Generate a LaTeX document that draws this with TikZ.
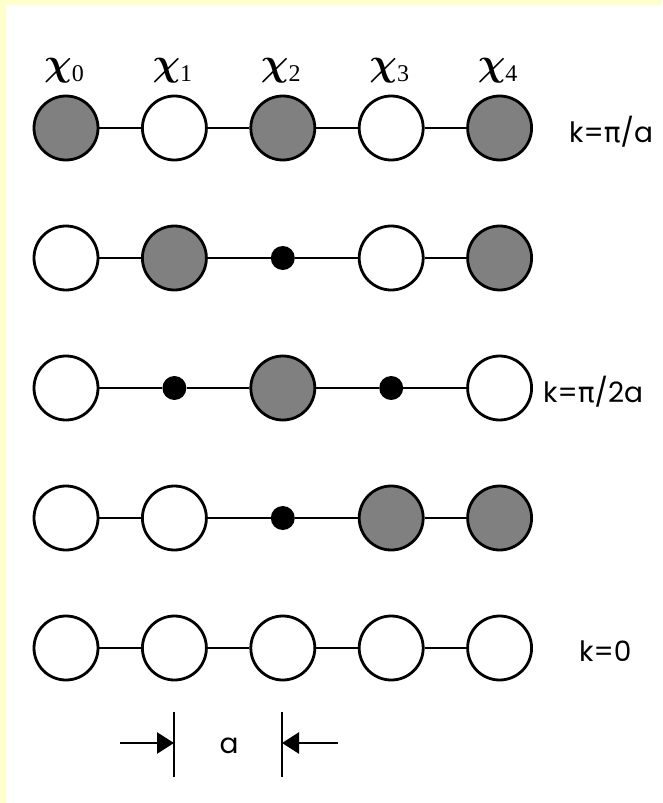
\documentclass[tikz,border=0pt]{standalone}
\usepackage{amsmath}
\usepackage{bm}
\usepackage{fontspec}
\setmainfont{Poppins}
\newfontfamily\greekfont{DejaVu Sans}
\newfontfamily\chifont{Liberation Serif}
\usetikzlibrary{arrows.meta}

\definecolor{frame}{HTML}{FFFFCC}
\definecolor{shade}{HTML}{808080}

\tikzset{
  site/.style = {circle, draw = black, line width = 2.8pt,
    minimum size = 64pt, inner sep = 0pt},
  full/.style = {site, fill = shade},
  empty/.style = {site, fill = white},
  nil/.style = {circle, fill = black, minimum size = 24pt, inner sep = 0pt},
  bond/.style = {draw = black, line width = 1.5pt},
  klabel/.style = {anchor = base west, inner sep = 0pt,
    font = \fontsize{28}{30}\selectfont},
  chilabel/.style = {anchor = base, inner sep = 0pt,
    font = \fontsize{24}{26}\selectfont\chifont},
  dim/.style = {line width = 2.6pt, -{Triangle[length = 17pt, width = 21pt]}}
}

\begin{document}
\begin{tikzpicture}[x = 1pt, y = -1pt]
  \fill[frame] (0, 0) rectangle (662, 803);
  \fill[white] (6, 5) rectangle (662, 803);
  \useasboundingbox (0, 0) rectangle (662, 803);

  % orbitals of the chain
  \foreach \kinds [count = \r] in {{full,empty,full,empty,full},
      {empty,full,nil,empty,full}, {empty,nil,full,nil,empty},
      {empty,empty,nil,full,full}, {empty,empty,empty,empty,empty}}
    \foreach \kind [count = \c] in \kinds
      \node[\kind] (n\r-\c) at ({66 + 108.4 * (\c - 1)}, {128 + 130 * (\r - 1)}) {};

  \foreach \r in {1, 2, 3, 4, 5} {
    \foreach \a/\b in {1/2, 2/3, 3/4, 4/5} {
      \draw[bond] (n\r-\a) -- (n\r-\b);
    }
  }

  \foreach \c in {0, 1, 2, 3, 4}
    \node[chilabel] (chi\c) at ({64 + 108.4 * \c}, 75)
      {\scalebox{1.55}{\(\bm{\chi}\)}\raisebox{-6pt}{\c}};

  \node[klabel] (k1) at (569, 142.7) {k={\greekfont π}/a};
  \node[klabel] (k3) at (543, 402.7) {k={\greekfont π}/2a};
  \node[klabel] (k5) at (579, 661.7) {k=0};

  % lattice spacing
  \coordinate (tickLtop) at (174, 712);
  \coordinate (tickLbot) at (174, 777);
  \coordinate (tickRtop) at (282, 712);
  \coordinate (tickRbot) at (282, 777);
  \coordinate (tipL) at (174, 743);
  \coordinate (tipR) at (282, 743);
  \coordinate (tailL) at (120, 743);
  \coordinate (tailR) at (338, 743);
  \draw[line width = 2.6pt] (tickLtop) -- (tickLbot);
  \draw[line width = 2.6pt] (tickRtop) -- (tickRbot);
  \draw[dim] (tailL) -- (tipL);
  \draw[dim] (tailR) -- (tipR);
  \node[klabel, anchor = base] (spacing) at (229, 753) {a};
\end{tikzpicture}
\end{document}
